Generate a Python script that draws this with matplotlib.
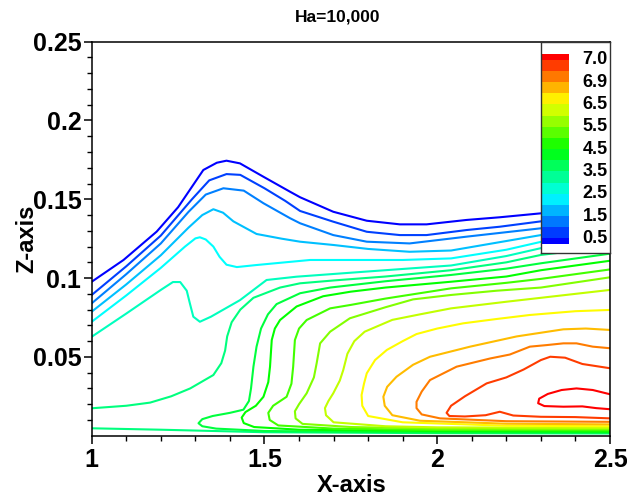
import numpy as np
import matplotlib
import matplotlib.pyplot as plt
from matplotlib.colors import LinearSegmentedColormap

matplotlib.use('agg')

plt.rcParams['font.family'] = ['Liberation Sans', 'DejaVu Sans']
plt.rcParams['font.weight'] = 'bold'

### contour levels and legend
levels = [0.5, 1.0, 1.5, 2.0, 2.5, 3.0, 3.5, 4.0, 4.5, 5.0, 5.5, 6.0, 6.5, 6.7, 6.9, 6.95, 7.0]
x_ticks = [1, 1.5, 2, 2.5]
x_ticklabels = ['1', '1.5', '2', '2.5']
z_ticks = [0.05, 0.1, 0.15, 0.2, 0.25]
z_ticklabels = ['0.05', '0.1', '0.15', '0.2', '0.25']
title = 'Ha=10,000'

### isolines, (x, z) points, one list per level (some levels have two pieces)
iso_00 = [(1.0, 0.0977), (1.092, 0.1115), (1.188, 0.1295), (1.25, 0.145), (1.284, 0.156), (1.323, 0.1686),
          (1.362, 0.1732), (1.39, 0.1745), (1.429, 0.1728), (1.497, 0.1643), (1.574, 0.1548), (1.603, 0.1513),
          (1.699, 0.1421), (1.796, 0.1364), (1.892, 0.1341), (1.969, 0.1341), (2.085, 0.1369), (2.181, 0.1386),
          (2.3, 0.1411), (2.5, 0.145)]
iso_01 = [(1.0, 0.0893), (1.1, 0.1075), (1.2, 0.127), (1.29, 0.150), (1.34, 0.162), (1.39, 0.166), (1.43, 0.1655),
          (1.5, 0.157), (1.56, 0.149), (1.603, 0.1426), (1.699, 0.1358), (1.796, 0.1294), (1.892, 0.1273),
          (1.969, 0.1273), (2.085, 0.1305), (2.181, 0.1326), (2.3, 0.136), (2.5, 0.140)]
iso_02 = [(1.0, 0.084), (1.1, 0.1025), (1.2, 0.122), (1.28, 0.142), (1.33, 0.153), (1.381, 0.157), (1.44, 0.1555),
          (1.497, 0.1475), (1.574, 0.138), (1.603, 0.1348), (1.699, 0.1273), (1.796, 0.1231), (1.92, 0.122),
          (2.085, 0.1263), (2.3, 0.1316), (2.5, 0.136)]
iso_03 = [(1.0, 0.0787), (1.1, 0.096), (1.2, 0.1145), (1.28, 0.132), (1.32, 0.140), (1.352, 0.1437), (1.38, 0.1415),
          (1.41, 0.136), (1.477, 0.128), (1.55, 0.125), (1.603, 0.1231), (1.7, 0.121), (1.8, 0.1185), (1.92, 0.1167),
          (2.04, 0.1175), (2.3, 0.1273), (2.5, 0.132)]
iso_04 = [(1.0, 0.0723), (1.1, 0.089), (1.2, 0.1065), (1.27, 0.120), (1.30, 0.1252), (1.313, 0.1259), (1.33, 0.1245),
          (1.352, 0.120), (1.37, 0.1135), (1.39, 0.1085), (1.42, 0.107), (1.477, 0.1083), (1.632, 0.1115),
          (1.9, 0.1115), (2.04, 0.1125), (2.2, 0.118), (2.3, 0.123), (2.5, 0.128)]
iso_05 = [(1.0, 0.0628), (1.1, 0.0775), (1.2, 0.0925), (1.235, 0.0975), (1.256, 0.0975), (1.275, 0.092),
          (1.284, 0.084), (1.294, 0.0755), (1.313, 0.0723), (1.345, 0.0755), (1.381, 0.080), (1.429, 0.086),
          (1.506, 0.0988), (1.593, 0.1009), (1.786, 0.104), (2.04, 0.108), (2.2, 0.114), (2.3, 0.119), (2.5, 0.124)]
iso_06_top = [(1.0, 0.0174), (1.1, 0.019), (1.169, 0.021), (1.23, 0.025), (1.285, 0.030), (1.352, 0.0385),
              (1.375, 0.046), (1.386, 0.054), (1.392, 0.063), (1.405, 0.072), (1.43, 0.080), (1.468, 0.0875),
              (1.545, 0.094), (1.603, 0.0967), (1.7, 0.0985), (1.85, 0.101), (2.04, 0.105), (2.2, 0.110),
              (2.3, 0.1147), (2.5, 0.120)]
iso_06_bot = [(1.0, 0.0047), (1.2, 0.0038), (1.5, 0.0022), (2.0, 0.0016), (2.5, 0.0014)]
iso_07 = [(2.5, 0.0019), (2.0, 0.002), (1.5, 0.003), (1.36, 0.0045), (1.32, 0.006), (1.309, 0.0079), (1.32, 0.0105),
          (1.35, 0.0125), (1.40, 0.0145), (1.439, 0.0165), (1.455, 0.022), (1.461, 0.030), (1.468, 0.0438),
          (1.477, 0.0565), (1.49, 0.068), (1.51, 0.077), (1.535, 0.0835), (1.603, 0.0904), (1.69, 0.094),
          (1.85, 0.098), (2.04, 0.102), (2.2, 0.106), (2.3, 0.1094), (2.5, 0.1155)]
iso_08 = [(2.5, 0.0026), (2.0, 0.0029), (1.6, 0.0038), (1.47, 0.0055), (1.44, 0.008), (1.434, 0.0115),
          (1.445, 0.015), (1.475, 0.019), (1.497, 0.0247), (1.511, 0.034), (1.516, 0.0438), (1.521, 0.0607),
          (1.53, 0.068), (1.545, 0.0734), (1.593, 0.082), (1.67, 0.0885), (1.75, 0.0914), (1.85, 0.094),
          (2.04, 0.0977), (2.2, 0.101), (2.3, 0.105), (2.5, 0.111)]
iso_09 = [(2.5, 0.0034), (2.0, 0.0037), (1.7, 0.0045), (1.54, 0.0065), (1.515, 0.010), (1.511, 0.0145),
          (1.525, 0.019), (1.564, 0.0247), (1.578, 0.033), (1.583, 0.0438), (1.588, 0.0607), (1.60, 0.068),
          (1.622, 0.0734), (1.69, 0.0808), (1.75, 0.083), (1.85, 0.087), (2.04, 0.0935), (2.2, 0.097),
          (2.3, 0.0995), (2.5, 0.1055)]
iso_10 = [(2.5, 0.0042), (2.0, 0.0045), (1.75, 0.0055), (1.61, 0.0075), (1.59, 0.011), (1.588, 0.0155),
          (1.60, 0.020), (1.622, 0.0269), (1.643, 0.037), (1.651, 0.046), (1.661, 0.0586), (1.69, 0.066),
          (1.747, 0.0745), (1.85, 0.0815), (1.93, 0.0865), (2.04, 0.0893), (2.172, 0.092), (2.3, 0.094),
          (2.5, 0.1005)]
iso_11 = [(2.5, 0.005), (2.0, 0.0053), (1.85, 0.006), (1.70, 0.0085), (1.678, 0.013), (1.675, 0.0175),
          (1.685, 0.022), (1.699, 0.0269), (1.718, 0.035), (1.728, 0.0417), (1.74, 0.052), (1.76, 0.060),
          (1.79, 0.066), (1.87, 0.0735), (1.95, 0.077), (2.04, 0.0808), (2.2, 0.085), (2.3, 0.0875), (2.5, 0.0925)]
iso_12 = [(2.5, 0.006), (2.2, 0.0063), (1.9, 0.0085), (1.80, 0.0125), (1.783, 0.019), (1.781, 0.0258),
          (1.788, 0.033), (1.796, 0.0396), (1.82, 0.048), (1.854, 0.0544), (1.9, 0.060), (1.94, 0.0645),
          (2.0, 0.068), (2.075, 0.0713), (2.17, 0.074), (2.268, 0.0766), (2.4, 0.079), (2.5, 0.0798)]
iso_13 = [(2.5, 0.0072), (2.2, 0.0076), (1.95, 0.0095), (1.87, 0.013), (1.848, 0.019), (1.844, 0.0247),
          (1.855, 0.031), (1.882, 0.0374), (1.93, 0.045), (1.979, 0.0501), (2.095, 0.0565), (2.23, 0.063),
          (2.365, 0.0675), (2.43, 0.068), (2.5, 0.0671)]
iso_14 = [(2.5, 0.0088), (2.2, 0.0092), (2.008, 0.011), (1.955, 0.0135), (1.94, 0.0175), (1.94, 0.0215),
          (1.955, 0.028), (1.979, 0.0353), (2.056, 0.0438), (2.153, 0.049), (2.21, 0.0515), (2.268, 0.0565),
          (2.317, 0.0575), (2.365, 0.0586), (2.403, 0.0586), (2.45, 0.0565), (2.5, 0.0555)]
iso_15 = [(2.5, 0.011), (2.4, 0.0118), (2.3, 0.012), (2.22, 0.0128), (2.181, 0.0152), (2.14, 0.013),
          (2.08, 0.0122), (2.035, 0.0125), (2.027, 0.0145), (2.04, 0.019), (2.08, 0.025), (2.143, 0.0332),
          (2.2, 0.037), (2.25, 0.042), (2.3, 0.048), (2.327, 0.0501), (2.37, 0.0495), (2.42, 0.0455), (2.5, 0.0428)]
iso_16 = [(2.5, 0.0263), (2.45, 0.029), (2.403, 0.030), (2.36, 0.029), (2.32, 0.0265), (2.295, 0.0235),
          (2.292, 0.0206), (2.31, 0.0188), (2.365, 0.0184), (2.42, 0.0186), (2.46, 0.0175), (2.5, 0.0168)]

iso_lines = [[iso_00], [iso_01], [iso_02], [iso_03], [iso_04], [iso_05], [iso_06_top, iso_06_bot],
             [iso_07], [iso_08], [iso_09], [iso_10], [iso_11], [iso_12], [iso_13], [iso_14], [iso_15], [iso_16]]

rainbow = LinearSegmentedColormap.from_list('small_rainbow',
                                            ['#0000ff', '#00ffff', '#00ff00', '#ffff00', '#ff0000'])
nlev = len(levels)

fig = plt.figure(figsize=(6.27, 5.0), dpi=100)
ax = fig.add_axes([0.1463, 0.1286, 0.8266, 0.788])

for k, segs in enumerate(iso_lines):
    col = rainbow(k / (nlev - 1))
    for seg in segs:
        pts = np.array(seg)
        ax.plot(pts[:, 0], pts[:, 1], color=col, lw=1.5, solid_joinstyle='round', zorder=2)

ax.set_xlim(1, 2.5)
ax.set_ylim(0, 0.25)
ax.set_xticks(x_ticks)
ax.set_xticklabels(x_ticklabels)
ax.set_yticks(z_ticks)
ax.set_yticklabels(z_ticklabels)
ax.set_xticks(np.arange(1.1, 2.5, 0.1), minor=True)
ax.set_yticks(np.arange(0.01, 0.25, 0.01), minor=True)
ax.tick_params(which='major', direction='out', length=5.5, width=1.1, labelsize=18)
ax.tick_params(which='minor', direction='out', length=3.5, width=1.0)
ax.tick_params(axis='x', which='major', pad=3)
ax.tick_params(axis='y', which='major', pad=2)
for sp in ax.spines.values():
    sp.set_linewidth(1.1)
    sp.set_color('black')

fig.text(0.5605, 0.0295, 'X-axis', ha='center', va='center', fontsize=17, fontweight='bold')
fig.text(0.042, 0.5226, 'Z-axis', ha='center', va='center', rotation=90, fontsize=17, fontweight='bold')
fig.text(0.539, 0.966, title, ha='center', va='center', fontsize=12.5, fontweight='bold')

### level legend in the upper right corner
leg = ax.inset_axes([0.866, 0.4645, 0.134, 0.5355])
leg.set_facecolor('white')
for sp in leg.spines.values():
    sp.set_linewidth(1.0)
    sp.set_color('#333333')
leg.set_xticks([])
leg.set_yticks([])
span = (nlev - 1 + 1.0) / 0.9
leg.set_xlim(0, 1)
leg.set_ylim(-0.5 - 0.041 * span, nlev - 0.5 + 0.059 * span)
edges = np.concatenate([[-0.5], np.arange(nlev), [nlev - 0.5]])
band_cols = [rainbow(j / nlev) for j in range(nlev + 1)]
leg.bar(0, np.diff(edges), width=0.41, bottom=edges[:-1], align='edge', color=band_cols, linewidth=0)
for k in range(0, nlev, 2):
    leg.text(0.965, k, f'{levels[k]:.1f}', ha='right', va='center', fontsize=13, fontweight='bold')

fig.savefig('out.png', dpi=100)
